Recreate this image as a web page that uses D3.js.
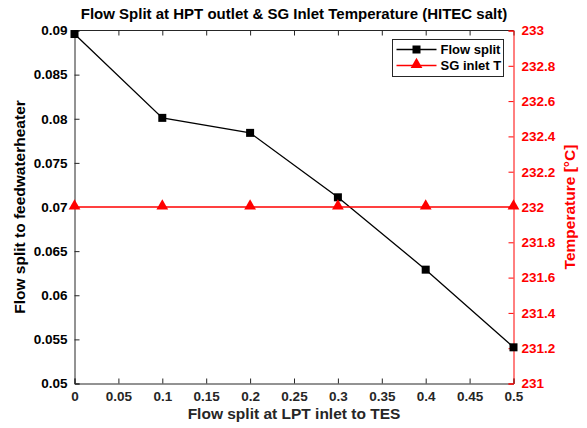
<!DOCTYPE html>
<html><head><meta charset="utf-8">
<script src="https://cdn.jsdelivr.net/npm/d3@7"></script>
<style>body{margin:0;background:#fff;} svg{display:block;font-family:"Liberation Sans",Arial,sans-serif;}</style>
</head><body>
<svg id="c" width="587" height="428"></svg>
<script>
const xValues = [0, 0.1, 0.2, 0.3, 0.4, 0.5];
const flowSplit = [0.0896, 0.0801, 0.0784, 0.0711, 0.0629, 0.0541];
const sgInletT = [232, 232, 232, 232, 232, 232];
const xTicks = [0,0.05,0.1,0.15,0.2,0.25,0.3,0.35,0.4,0.45,0.5];
const yLeftTicks = [0.05,0.055,0.06,0.065,0.07,0.075,0.08,0.085,0.09];
const yRightTicks = [231,231.2,231.4,231.6,231.8,232,232.2,232.4,232.6,232.8,233];

const svg = d3.select("#c");
const L=74.5, R=513.5, T=30.5, B=383.5;
const x = d3.scaleLinear().domain([0,0.5]).range([L,R]);
const yl = d3.scaleLinear().domain([0.05,0.09]).range([B,T]);
const yr = d3.scaleLinear().domain([231,233]).range([B,T]);
const dark = "#262626", red = "#ff0000";
const TF = 13.5;

svg.append("line").attr("x1",L).attr("x2",R).attr("y1",T).attr("y2",T).attr("stroke",dark).attr("stroke-width",1);

const gx = svg.append("g").attr("transform",`translate(0,${B})`)
  .call(d3.axisBottom(x).tickValues(xTicks).tickSize(-5).tickPadding(8).tickFormat(d=>+d.toFixed(2)));
gx.select(".domain").attr("stroke",dark);
gx.selectAll(".tick line").attr("stroke",dark);
gx.selectAll("text").attr("fill",dark).attr("font-size",TF).attr("font-weight","bold");
const gt = svg.append("g").attr("transform",`translate(0,${T})`)
  .call(d3.axisTop(x).tickValues(xTicks).tickSize(-5).tickFormat(""));
gt.select(".domain").remove();
gt.selectAll(".tick line").attr("stroke",dark);

const gl = svg.append("g").attr("transform",`translate(${L},0)`)
  .call(d3.axisLeft(yl).tickValues(yLeftTicks).tickSize(-5).tickPadding(7).tickFormat(d=>+d.toFixed(3)));
gl.select(".domain").attr("stroke",dark);
gl.selectAll(".tick line").attr("stroke",dark);
gl.selectAll("text").attr("fill","#000").attr("font-size",TF).attr("font-weight","bold");

const gr = svg.append("g").attr("transform",`translate(${R},0)`)
  .call(d3.axisRight(yr).tickValues(yRightTicks).tickSize(-5).tickPadding(8).tickFormat(d=>+d.toFixed(1)));
gr.select(".domain").attr("stroke",red);
gr.selectAll(".tick line").attr("stroke",red);
gr.selectAll("text").attr("fill",red).attr("font-size",TF).attr("font-weight","bold");

svg.append("path").datum(xValues.map((v,i)=>[v,flowSplit[i]]))
  .attr("fill","none").attr("stroke","#000").attr("stroke-width",1.3)
  .attr("d",d3.line().x(d=>x(d[0])).y(d=>yl(d[1])));
svg.selectAll(".sq").data(xValues.map((v,i)=>[v,flowSplit[i]])).enter().append("rect")
  .attr("x",d=>x(d[0])-4).attr("y",d=>yl(d[1])-4).attr("width",8).attr("height",8).attr("fill","#000");

svg.append("path").datum(xValues.map((v,i)=>[v,sgInletT[i]]))
  .attr("fill","none").attr("stroke",red).attr("stroke-width",1.3)
  .attr("d",d3.line().x(d=>x(d[0])).y(d=>yr(d[1])));
const tri = d3.symbol().type(d3.symbolTriangle).size(60);
svg.selectAll(".tr").data(xValues.map((v,i)=>[v,sgInletT[i]])).enter().append("path")
  .attr("d",tri).attr("transform",d=>`translate(${x(d[0])},${yr(d[1])-1})`).attr("fill",red);

const lg = svg.append("g").attr("transform","translate(392.5,39.5)");
lg.append("rect").attr("width",111).attr("height",37).attr("fill","#fff").attr("stroke",dark).attr("stroke-width",1);
lg.append("line").attr("x1",4).attr("x2",44).attr("y1",10).attr("y2",10).attr("stroke","#000").attr("stroke-width",1.3);
lg.append("rect").attr("x",20).attr("y",6).attr("width",8).attr("height",8).attr("fill","#000");
lg.append("text").attr("x",48).attr("y",14.5).text("Flow split").attr("font-size",13).attr("font-weight","bold").attr("fill","#000");
lg.append("line").attr("x1",4).attr("x2",44).attr("y1",26).attr("y2",26).attr("stroke",red).attr("stroke-width",1.3);
lg.append("path").attr("d",tri).attr("transform","translate(24,25)").attr("fill",red);
lg.append("text").attr("x",48).attr("y",30.5).text("SG inlet T").attr("font-size",13).attr("font-weight","bold").attr("fill","#000");

svg.append("text").attr("x",(L+R)/2).attr("y",19).attr("text-anchor","middle")
  .attr("font-size",15).attr("font-weight","bold").attr("fill","#000")
  .text("Flow Split at HPT outlet & SG Inlet Temperature (HITEC salt)");
svg.append("text").attr("x",(L+R)/2).attr("y",419).attr("text-anchor","middle")
  .attr("font-size",15.5).attr("font-weight","bold").attr("fill",dark)
  .text("Flow split at LPT inlet to TES");
svg.append("text").attr("transform",`translate(25,${(T+B)/2}) rotate(-90)`).attr("text-anchor","middle")
  .attr("font-size",15.5).attr("font-weight","bold").attr("fill","#000")
  .text("Flow split to feedwaterheater");
svg.append("text").attr("transform",`translate(575,${(T+B)/2}) rotate(-90)`).attr("text-anchor","middle")
  .attr("font-size",15.5).attr("font-weight","bold").attr("fill",red)
  .text("Temperature [°C]");
</script>
</body></html>
